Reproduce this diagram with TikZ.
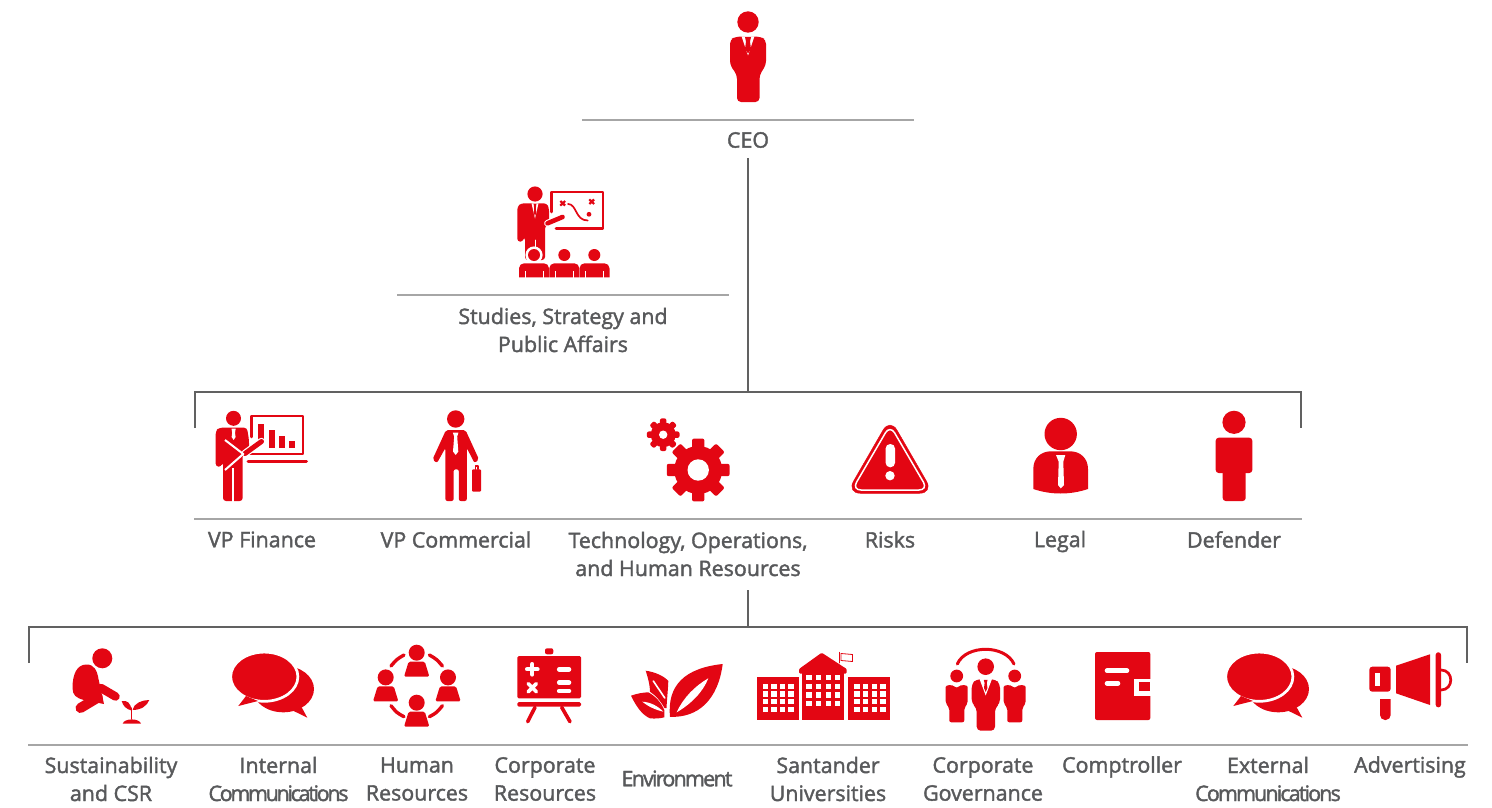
\documentclass[tikz,border=0pt]{standalone}
\usepackage{fontspec}
\setmainfont{Open Sans}[FakeBold=1.8]
\usepackage{tikz}
\usetikzlibrary{calc}

\definecolor{santred}{HTML}{E30613}
\definecolor{labelgray}{HTML}{58595B}
\definecolor{busgray}{HTML}{616161}
\definecolor{rulegray}{HTML}{A6A6A6}

\tikzset{
  ic/.style={fill=santred, draw=none},
  hole/.style={fill=white, draw=none},
  icline/.style={draw=santred, line cap=round, line join=round},
  holeline/.style={draw=white, line cap=round, line join=round},
  conn/.style={draw=busgray, line width=2.8pt},
  rule/.style={draw=rulegray, line width=1.1pt},
  lab/.style={text=labelgray, align=center, inner sep=0pt,
    font=\fontsize{21.4}{28}\selectfont},
  pics/bubbles/.style={code={
    \fill[ic] (291.7,710) -- (307.3,717.7) -- (301.7,707.3) -- cycle;
    \fill[ic] (283.3,689) ellipse [x radius=30.7, y radius=23.3];
    \fill[ic, draw=white, line width=2.7pt] (264.3,676.7) ellipse [x radius=33.6, y radius=24.6];
    \fill[ic] (246,696) -- (238.3,706) -- (258,701) -- cycle;
  }},
  pics/member/.style={code={
    \fill[ic] (416.7,652.7) circle [radius=8];
    \fill[ic, rounded corners=1.5pt] (408.6,661.7) -- (424.8,661.7) -- (429.4,676.7) -- (404,676.7) -- cycle;
  }},
  pics/cog/.style={code={
    \fill[ic] (0,0) circle [radius=24];
    \foreach \a in {0,45,...,315}
      \fill[ic, rotate=\a, rounded corners=2pt] (-6.2,-31.4) rectangle (6.2,-18);
  }},
  pics/sideman/.style={code={
    \fill[ic] (956.7,676) circle [radius=6.4];
    \fill[ic, rounded corners=2pt] (945.7,689) .. controls (945.7,685) and (952,684) .. (956.7,688.3)
      .. controls (961,684) and (967.7,685) .. (967.7,689) -- (967.7,703.3) -- (964.3,708) -- (964.3,722.3) -- (949.3,722.3) -- (949.3,708) -- (945.7,703.3) -- cycle;
  }},
}

\begin{document}
\begin{tikzpicture}[x=1pt, y=-1pt]
  \useasboundingbox (0,0) rectangle (1492,808);

  % labels
  \node[lab] (ceoLabel)   at (748,140) [minimum height=36pt] {CEO};
  \node[lab] (studies)    at (563,330) {Studies, Strategy and\\Public Affairs};
  \node[lab] (vpFinance)  at (262,539.5) {VP Finance};
  \node[lab] (vpComm)     at (456,539.5) {VP Commercial};
  \node[lab] (techOps)    at (688,554) {Technology, Operations,\\and Human Resources};
  \node[lab] (risks)      at (890,539.5) {Risks};
  \node[lab] (legal)      at (1060,541.5) {Legal};
  \node[lab] (defender)   at (1234,539.5) {Defender};
  \node[lab] (sustain)    at (111,779) {Sustainability\\and CSR};
  \node[lab] (internal)   at (278.5,779) {Internal\\\addfontfeature{LetterSpace=-10.5}Communications};
  \node[lab] (humanRes)   at (417,779) {Human\\Resources};
  \node[lab] (corpRes)    at (545,779) {Corporate\\Resources};
  \node[lab] (environ)    at (677,778.5) {\addfontfeature{LetterSpace=-8}Environment};
  \node[lab] (santander)  at (828,779) {Santander\\Universities};
  \node[lab] (corpGov)    at (983,779) {Corporate\\Governance};
  \node[lab] (comptrol)   at (1122,767) {Comptroller};
  \node[lab] (external)   at (1268,779) {External\\\addfontfeature{LetterSpace=-8.5}Communications};
  \node[lab] (advert)     at (1410,767) {Advertising};

  % rules
  \draw[rule] (582,120) -- (914,120);
  \draw[rule] (397,295) -- (729,295);
  \draw[rule] (194,519) -- (1302,519);
  \draw[rule] (28,745) -- (1468,745);

  % connectors
  \coordinate (busA)  at (748,392);
  \coordinate (busAL) at (195,428);
  \coordinate (busAR) at (1301,428);
  \coordinate (techFoot) at (748,590);
  \coordinate (busB)  at (748,627);
  \coordinate (busBL) at (29,663);
  \coordinate (busBR) at (1467,663);
  \draw[conn] (ceoLabel.south) -- (busA);
  \draw[conn] (busAL) -- (busAL |- busA) -- (busAR |- busA) -- (busAR);
  \draw[conn] (techFoot) -- (busB);
  \draw[conn] (busBL) -- (busBL |- busB) -- (busBR |- busB) -- (busBR);

  % CEO
  \fill[ic] (748,22) circle [radius=10.7];
  \fill[ic, rounded corners=4pt] (730,65) -- (730,40) -- (735,36.7) -- (761,36.7) -- (766,40) -- (766,65) -- (759.5,75) -- (759.5,102) -- (737,102) -- (737,75) -- cycle;
  \fill[hole] (741.6,36.5) -- (748,55.5) -- (754.4,36.5) -- cycle;
  \fill[ic] (745,37.2) -- (751,37.2) -- (750,41.5) -- (751,49) -- (748,53.5) -- (745,49) -- (746,41.5) -- cycle;

  % studies
  \fill[ic] (535,194) circle [radius=7.6];
  \draw[icline, line width=2.7pt] (551.3,212) -- (551.3,192) -- (603,192) -- (603,228.8) -- (556,228.8);
  \fill[ic, rounded corners=3pt] (517.3,241.7) -- (517.3,206.7) -- (521,203.3) -- (546.7,203.3) -- (549,208) -- (549,224) -- (545,226) -- (545,260) -- (525,260) -- (525,237) -- (523.3,237) -- (523.3,241.7) -- cycle;
  \fill[hole] (531.5,203.3) -- (535,218.5) -- (538.5,203.3) -- cycle;
  \fill[ic] (533.6,203.8) -- (536.4,203.8) -- (535.8,208) -- (536.2,213) -- (535,216) -- (533.8,213) -- (534.2,208) -- cycle;
  \draw[holeline, line width=0.9pt] (535,240) -- (535,252);
  \draw[holeline, line width=6.8pt] (547.5,223.3) -- (562.5,217);
  \draw[icline, line width=4.6pt] (547.5,223.3) -- (562.5,217);
  \draw[icline, line width=1.7pt] (568,204) .. controls (577,204) and (575,220.5) .. (587.7,220.5);
  \draw[icline, line width=2.2pt, line cap=butt] (560.3,201) -- (565.1,205.6) (560.3,205.6) -- (565.1,201) (589.3,199.4) -- (594.1,204) (589.3,204) -- (594.1,199.4);
  \fill[ic] (589,214.3) circle [radius=2.4];
  \fill[hole] (534,255) circle [radius=8.6];
  \foreach \hx/\bx in {534/519, 564.3/549.3, 594.3/579.5}{
    \fill[ic] (\hx,255) circle [radius=6];
    \fill[ic] (\bx,277.3) [rounded corners=5pt] -- (\bx,263.3) -- ($(\bx,263.3)+(30,0)$) [sharp corners] -- ($(\bx,277.3)+(30,0)$) -- cycle;
    \draw[holeline, line width=0.7pt, line cap=butt] ($(\bx,277.5)+(6,0)$) -- ++(0,-7) ($(\bx,277.5)+(24,0)$) -- ++(0,-7);
  }

  % VP Finance
  \fill[ic] (233.5,418.3) circle [radius=7.5];
  \draw[icline, line width=2.5pt] (251.3,437) -- (251.3,416.2) -- (303,416.2) -- (303,454) -- (250,454);
  \draw[icline, line width=3pt] (248,461.7) -- (306.5,461.7);
  \fill[ic] (258.3,424.3) rectangle (264.3,440);
  \fill[ic] (269,430) rectangle (275,448.3);
  \fill[ic] (279,435.7) rectangle (285,448.3);
  \fill[ic] (289,441) rectangle (295,448.3);
  \fill[ic, rounded corners=3pt] (215.7,466.7) -- (215.7,431) -- (219,427.7) -- (247,427.7) -- (249,440) -- (249,450) -- (242.7,454) -- (242.7,501) -- (223,501) -- (223,462) -- (221.7,462) -- (221.7,466.7) -- cycle;
  \draw[holeline, line width=2.2pt, line cap=butt] (233.3,468) -- (233.3,502);
  \fill[hole] (231.5,428.5) -- (235.7,428.5) -- (235,433) -- (235.6,437) -- (233.6,440) -- (231.6,437) -- (232.2,433) -- cycle;
  \draw[holeline, line width=7.4pt] (245,453.5) -- (261.5,441.5);
  \draw[icline, line width=5pt] (245,453.5) -- (261.5,441.5);
  \draw[holeline, line width=2pt, line cap=butt] (225,440) -- (243.3,454) -- (225,470);

  % VP Commercial
  \fill[ic] (455.7,419) circle [radius=8.7];
  \fill[ic, rounded corners=2pt] (446,430) -- (465.5,430) -- (479,459.5) -- (474.5,463) -- (466.8,448) -- (466.8,501) -- (458.8,501) -- (458.8,469.3) -- (453.6,469.3) -- (453.6,501) -- (445.4,501) -- (445.4,448) -- (437,463) -- (432.5,459.5) -- cycle;
  \fill[hole] (452.8,432.7) -- (458.4,432.7) -- (457.2,436.5) -- (458.3,451.5) -- (455.7,455) -- (453,451.5) -- (454.2,436.5) -- cycle;
  \fill[ic, rounded corners=1pt] (472,469.3) rectangle (481,491.7);
  \draw[icline, line width=1.4pt] (475.5,469.3) -- (475.5,466) -- (477.8,466) -- (477.8,469.3);

  % technology
  \pic at (698.2,470) {cog};
  \pic[scale=0.52] at (663.2,434.7) {cog};
  \fill[hole] (698.2,470) circle [radius=10.7];
  \fill[hole] (663.2,434.7) circle [radius=4.2];

  % risks
  \fill[ic, draw=santred, rounded corners=14pt] (890,418) -- (933.5,493.3) -- (846.5,493.3) -- cycle;
  \draw[draw=white, line width=1.5pt, rounded corners=9pt] (890,425) -- (928,490) -- (852,490) -- cycle;
  \fill[hole, rounded corners=4.5pt] (885.6,444) rectangle (895,467.3);
  \fill[hole] (890,475.7) circle [radius=4.7];

  % legal
  \fill[ic] (1060.7,434) circle [radius=16.2];
  \fill[ic] (1033.3,489) -- (1033.3,469) .. controls (1033.3,458) and (1041,451.3) .. (1051,451.3) -- (1070,451.3) .. controls (1080,451.3) and (1088,458) .. (1088,469) -- (1088,489) .. controls (1070,495) and (1051,495) .. (1033.3,489) -- cycle;
  \fill[hole] (1056,455) -- (1065.3,455) -- (1063.3,461.7) -- (1064,485) -- (1060.7,488.3) -- (1058,485) -- (1058.7,461.7) -- cycle;

  % defender
  \fill[ic] (1234,422.3) circle [radius=11.6];
  \fill[ic, rounded corners=3pt] (1215.7,437.7) rectangle (1252.3,473);
  \fill[ic, rounded corners=3pt] (1222.7,465) rectangle (1245.7,501);

  % sustainability
  \fill[ic] (102.3,658.3) circle [radius=10];
  \fill[ic] (72.5,688) .. controls (72.5,674) and (77,664.5) .. (86.5,664.5) .. controls (94,664.5) and (97,670) .. (98.5,679) -- (104,704) -- (84,700) .. controls (76,698) and (72.5,695) .. (72.5,688) -- cycle;
  \draw[icline, line width=8.5pt] (101,688) -- (115.5,696.5);
  \draw[icline, line width=10pt] (98,697.5) -- (80.5,708);
  \draw[icline, line width=1.3pt] (131.8,719) -- (131.8,708);
  \fill[ic] (131.5,710.5) .. controls (126,709) and (123,706) .. (121.7,701) .. controls (127,700) and (131,703) .. (131.5,710.5) -- cycle;
  \fill[ic] (132.5,710) .. controls (134,703) and (142,700) .. (149.3,700) .. controls (147,706) and (141,710) .. (132.5,710) -- cycle;
  \fill[ic] (122.7,723.7) .. controls (124,718) and (139.5,718) .. (141,723.7) -- cycle;

  % internal and external communications
  \pic at (0,0) {bubbles};
  \pic at (995,0) {bubbles};

  % human resources
  \pic at (0,0) {member};
  \pic at (-31,24.7) {member};
  \pic at (31.3,24.7) {member};
  \pic at (0,50) {member};
  \foreach \ya/\yb/\yc in {666/659.3/655, 705.7/712.7/716.7}{
    \draw[icline, line width=3.4pt] (391,\ya) .. controls (396.7,\yb) .. (404,\yc);
    \draw[icline, line width=3.4pt] (442.4,\ya) .. controls (436.7,\yb) .. (429.4,\yc);
  }

  % corporate resources
  \fill[ic, rounded corners=1.5pt] (517.3,656) rectangle (581,698.3);
  \fill[ic, rounded corners=2pt] (545,648.3) rectangle (553.3,654.3);
  \fill[ic, rounded corners=1.5pt] (517.3,702) rectangle (581,706.7);
  \draw[icline, line width=3.6pt] (535,707.3) -- (527.7,721.7);
  \draw[icline, line width=3.6pt] (561.7,707.3) -- (570,721.7);
  \draw[holeline, line width=4pt] (527,669.3) -- (537.6,669.3) (532.3,664) -- (532.3,674.6);
  \draw[holeline, line width=3.6pt] (528.2,683.6) -- (536.4,691.8) (536.4,683.6) -- (528.2,691.8);
  \foreach \ry in {669.3, 682.7, 691}
    \draw[holeline, line width=4.6pt] (559.2,\ry) -- (569,\ry);

  % environment
  \fill[ic] (670,716.8) .. controls (667,685) and (685,668) .. (722.7,664) .. controls (718,700) and (698,718) .. (670,716.8) -- cycle;
  \fill[hole] (676.7,712.3) .. controls (683,698) and (695,686) .. (708.3,678.3) .. controls (703,692) and (691,704) .. (676.7,712.3) -- cycle;
  \fill[ic] (645.7,670.7) .. controls (655,672) and (664,676) .. (668.3,681) .. controls (668,690) and (667,698) .. (666.5,708) -- (664.5,708) .. controls (660,700) and (655,695) .. (650,691.7) .. controls (650,685) and (648,678) .. (645.7,670.7) -- cycle;
  \draw[holeline, line width=1.6pt] (653.3,681) -- (664.8,698);
  \fill[ic] (631,695.7) .. controls (637,693.5) and (643,692.5) .. (648.3,692.3) .. controls (655,696) and (661,702) .. (664.3,710) -- (664.3,717.3) .. controls (660,718.5) and (655,718.8) .. (650,718.3) .. controls (642,715) and (636,706) .. (631,695.7) -- cycle;
  \fill[hole] (642.3,701.7) .. controls (650,702) and (658,706) .. (663.3,711.7) .. controls (656,710) and (648,706.5) .. (642.3,701.7) -- cycle;

  % universities
  \fill[ic] (757,677.3) rectangle (799,720);
  \fill[ic] (802.3,673.3) rectangle (844.3,720);
  \fill[ic] (848.3,677.3) rectangle (890.3,720);
  \fill[ic, rounded corners=1pt] (799,673.5) -- (799,669) -- (821.7,652.7) -- (846.7,669) -- (846.7,673.5) -- cycle;
  \draw[icline, line width=0.8pt] (839.3,652.3) -- (839.3,663);
  \draw[draw=santred, fill=white, line width=0.8pt] (841,653.5) -- (852.5,654.5) -- (852.5,661.5) -- (841,660.5) -- cycle;
  \foreach \wx in {765.7,774,782.7,791,857,865.7,874.3,883}
    \foreach \wy in {686.7,694,701.7,709.3}
      \fill[hole] (\wx-2.6,\wy-2.6) rectangle (\wx+2.6,\wy+2.6);
  \foreach \wx in {809,818.3,828.3,837.7}
    \foreach \wy in {677.3,686.3,695,703.3}
      \fill[hole] (\wx-2.6,\wy-2.6) rectangle (\wx+2.6,\wy+2.6);

  % corporate governance
  \draw[icline, line width=3pt] (957.3,664) .. controls (966,644.4) and (1005,644.4) .. (1014,664);
  \fill[ic] (985.7,666.7) circle [radius=8.3];
  \fill[ic, rounded corners=4pt] (971.7,703.3) -- (971.7,684) -- (976,679.3) -- (995.5,679.3) -- (1000,684) -- (1000,703.3) -- (995,708) -- (995,730.7) -- (976.7,730.7) -- (976.7,708) -- cycle;
  \fill[hole] (979.5,679) -- (985.7,695.5) -- (992,679) -- cycle;
  \fill[ic] (983.8,679.8) -- (987.6,679.8) -- (986.8,683) -- (987.4,688) -- (985.7,692) -- (984,688) -- (984.6,683) -- cycle;
  \pic at (0,0) {sideman};
  \pic at (58,0) {sideman};

  % comptroller
  \fill[ic, rounded corners=2pt] (1095,652) rectangle (1150.3,720);
  \draw[holeline, line width=4.6pt] (1107,670.7) -- (1127,670.7);
  \draw[holeline, line width=4.6pt] (1107,683.3) -- (1118,683.3);
  \fill[hole] (1134.3,679.3) rectangle (1150.5,696);
  \fill[ic] (1139,681.7) rectangle (1150.3,691);

  % advertising
  \fill[ic] (1396,665.7) -- (1430,654.3) -- (1430,705) -- (1396,693.3) -- cycle;
  \fill[ic, rounded corners=2.5pt] (1435.7,652.3) rectangle (1441,707.3);
  \draw[icline, line width=2.7pt] (1441,670) .. controls (1454,670) and (1454,690) .. (1441,690);
  \fill[ic, rounded corners=3pt] (1369.3,666.7) rectangle (1390.7,691.7);
  \fill[hole] (1375,673.3) rectangle (1380.3,685.7);
  \fill[ic] (1380,699) -- (1390.7,699) [rounded corners=5pt] -- (1390.7,720) -- (1380,720) [sharp corners] -- cycle;
\end{tikzpicture}
\end{document}
